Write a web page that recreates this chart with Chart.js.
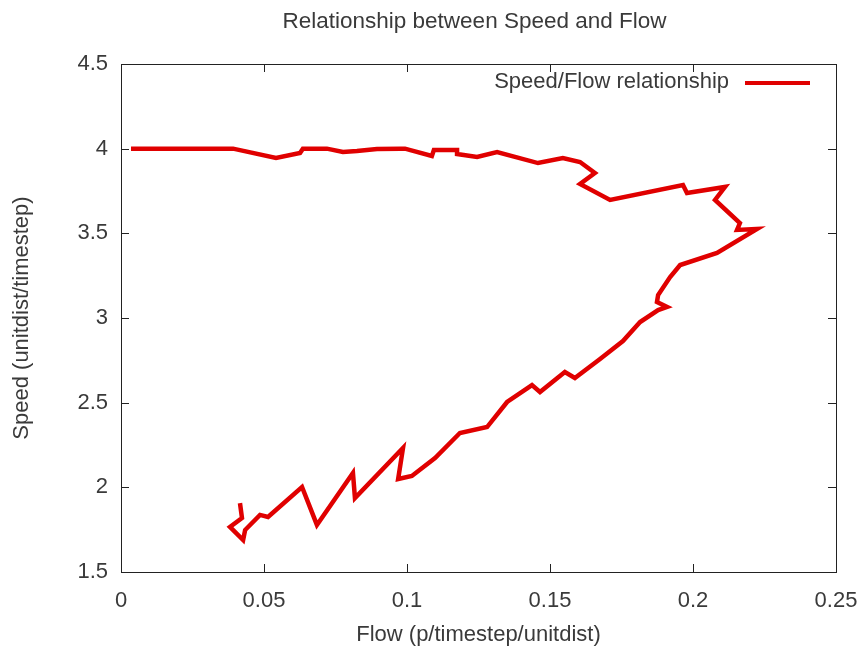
<!DOCTYPE html>
<html><head><meta charset="utf-8">
<script src="https://cdn.jsdelivr.net/npm/chart.js@4.4.1/dist/chart.umd.min.js"></script>
<style>html,body{margin:0;padding:0;background:#fff}#wrap{width:861px;height:652px}</style>
</head><body><div id="wrap"><canvas id="c" width="861" height="652"></canvas></div>
<script>
const titleText = 'Relationship between Speed and Flow';
const seriesLabel = 'Speed/Flow relationship';
const xLabel = 'Flow (p/timestep/unitdist)';
const yLabel = 'Speed (unitdist/timestep)';
const xTicks = [0, 0.05, 0.1, 0.15, 0.2, 0.25];
const yTicks = [1.5, 2, 2.5, 3, 3.5, 4, 4.5];
const flow = [0.0035,0.0392,0.0542,0.0626,0.0636,0.0720,0.0776,0.0825,0.0895,0.0976,0.0993,0.1087,0.1094,0.1175,0.1175,0.1245,0.1315,0.1458,0.1545,0.1605,0.1657,0.1605,0.1710,0.1965,0.1979,0.2112,0.2077,0.2164,0.2154,0.2224,0.2084,0.1955,0.1920,0.1878,0.1874,0.1909,0.1878,0.1815,0.1755,0.1675,0.1587,0.1552,0.1465,0.1437,0.1350,0.1280,0.1185,0.1098,0.1017,0.0969,0.0986,0.0818,0.0811,0.0685,0.0633,0.0514,0.0486,0.0434,0.0427,0.0381,0.0423,0.0416];
const speed = [4.0,4.0,3.945,3.974,4.0,4.0,3.980,3.986,3.998,4.0,4.0,3.957,3.992,3.992,3.968,3.951,3.980,3.915,3.945,3.921,3.856,3.791,3.697,3.785,3.738,3.774,3.697,3.561,3.520,3.526,3.384,3.313,3.242,3.136,3.094,3.065,3.047,2.976,2.864,2.758,2.646,2.681,2.563,2.604,2.504,2.356,2.321,2.173,2.067,2.049,2.232,1.937,2.085,1.778,2.002,1.825,1.837,1.748,1.689,1.766,1.819,1.907];

const FONT = '"Liberation Sans", Arial, sans-serif';
const TEXT = '#3a3a3a';
const RED = '#e00000';
const points = flow.map((f, i) => ({x: f, y: speed[i]}));

const decor = {
  id: 'decor',
  beforeDatasetsDraw(chart) {
    const {ctx, chartArea: a, scales: {x, y}} = chart;
    ctx.save();
    ctx.strokeStyle = '#222';
    ctx.lineWidth = 1;
    ctx.strokeRect(Math.round(a.left) + 0.5, Math.round(a.top) + 0.5, Math.round(a.right - a.left), Math.round(a.bottom - a.top));
    const L = 8;
    ctx.beginPath();
    xTicks.forEach(v => {
      const px = Math.round(x.getPixelForValue(v)) + 0.5;
      ctx.moveTo(px, a.bottom); ctx.lineTo(px, a.bottom - L);
      ctx.moveTo(px, a.top); ctx.lineTo(px, a.top + L);
    });
    yTicks.forEach(v => {
      const py = Math.round(y.getPixelForValue(v)) + 0.5;
      ctx.moveTo(a.left, py); ctx.lineTo(a.left + L, py);
      ctx.moveTo(a.right, py); ctx.lineTo(a.right - L, py);
    });
    ctx.stroke();
    ctx.restore();
  },
  afterDraw(chart) {
    const {ctx, chartArea: a} = chart;
    ctx.save();
    ctx.fillStyle = TEXT;
    ctx.font = '22.5px ' + FONT;
    ctx.textAlign = 'center';
    ctx.textBaseline = 'middle';
    ctx.fillText(titleText, (a.left + a.right) / 2 - 4, 22);
    ctx.font = '22px ' + FONT;
    ctx.textAlign = 'right';
    ctx.textBaseline = 'alphabetic';
    ctx.fillText(seriesLabel, a.right - 107, a.top + 24);
    ctx.strokeStyle = RED;
    ctx.lineWidth = 4;
    ctx.beginPath();
    ctx.moveTo(a.right - 91, a.top + 19);
    ctx.lineTo(a.right - 26, a.top + 19);
    ctx.stroke();
    ctx.restore();
  }
};

new Chart(document.getElementById('c'), {
  type: 'line',
  data: {datasets: [{label: seriesLabel, data: points, borderColor: RED, backgroundColor: RED, borderWidth: 4.5, pointRadius: 0, tension: 0, fill: false, borderJoinStyle: 'miter'}]},
  options: {
    responsive: false, devicePixelRatio: 1, animation: false,
    layout: {padding: {top: 64, right: 25, left: 0, bottom: 0}},
    plugins: {legend: {display: false}, title: {display: false}, tooltip: {enabled: false}},
    scales: {
      x: {
        type: 'linear', min: 0, max: 0.25,
        afterBuildTicks: s => { s.ticks = xTicks.map(v => ({value: v})); },
        afterFit: s => { s.height = 80; s.paddingRight = 0; s.paddingLeft = 0; },
        grid: {display: false, drawTicks: false}, border: {display: false},
        ticks: {padding: 16, color: TEXT, font: {family: FONT, size: 22}, maxRotation: 0, autoSkip: false, callback: v => String(+(+v).toFixed(2))},
        title: {display: true, text: xLabel, color: TEXT, font: {family: FONT, size: 22}, padding: {top: 0, bottom: 4}}
      },
      y: {
        type: 'linear', min: 1.5, max: 4.5,
        afterBuildTicks: s => { s.ticks = yTicks.map(v => ({value: v})); },
        afterFit: s => { s.width = 121; s.paddingTop = 0; s.paddingBottom = 0; },
        grid: {display: false, drawTicks: false}, border: {display: false},
        ticks: {padding: 13, color: TEXT, font: {family: FONT, size: 22}, autoSkip: false, callback: v => String(+(+v).toFixed(2))},
        title: {display: true, text: yLabel, color: TEXT, font: {family: FONT, size: 22}, padding: {top: 9, bottom: 0}}
      }
    }
  },
  plugins: [decor]
});
</script></body></html>
